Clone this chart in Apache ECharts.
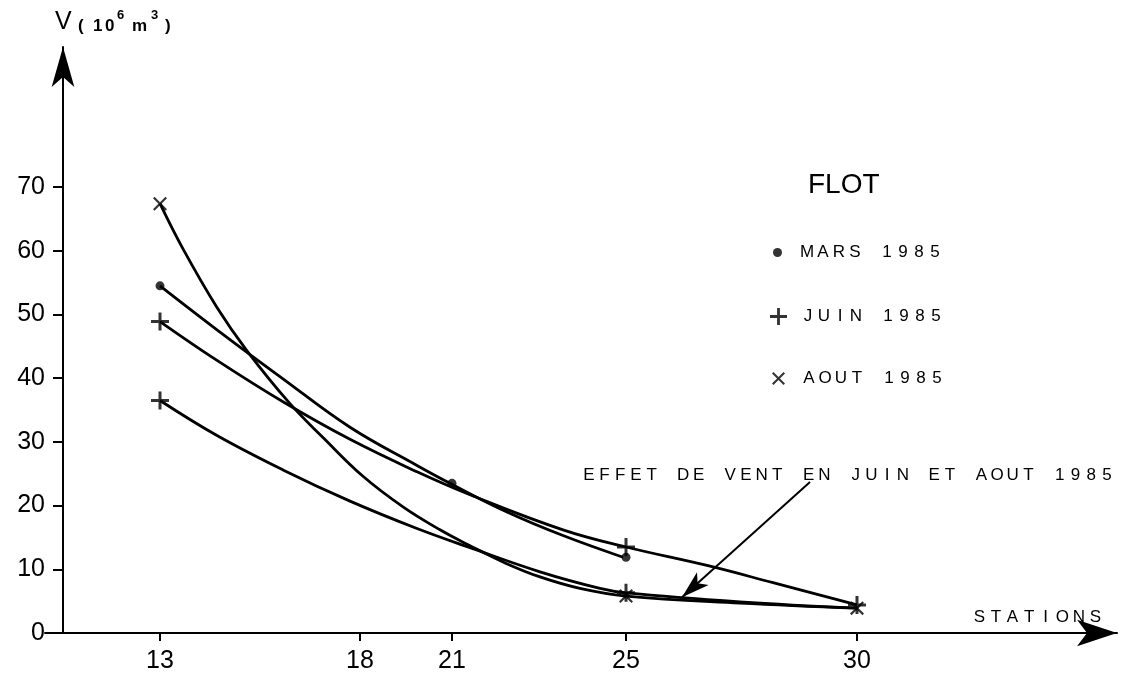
<!DOCTYPE html>
<html>
<head>
<meta charset="utf-8">
<script src="https://cdn.jsdelivr.net/npm/echarts@6/dist/echarts.min.js"></script>
<style>
html,body{margin:0;padding:0;background:#fff;}
#chart{width:1137px;height:678px;}
</style>
</head>
<body>
<div id="chart"></div>
<script>
// Stations along the x axis and their position along the (non-linear) axis,
// measured from station 13
const stations = [13, 18, 21, 25, 30];
const stationPos = [0, 200, 292, 466, 697];
// distance of station 13 from the vertical axis, same units
const xOrigin = 97;
const yTicks = [0, 10, 20, 30, 40, 50, 60, 70];

// Measured points [station, V (10^6 m3)]
const marsPoints = [[13, 54.5], [21, 23.5], [25, 11.9]];
const juinPoints = [[13, 48.9], [13, 36.5], [25, 13.5], [25, 6.3], [30, 4.4]];
const aoutPoints = [[13, 67.4], [25, 5.8], [30, 3.9]];

// Fitted curves [position from station 13, V]
const aoutCurve = [[0, 67.4], [23, 60.3], [57, 51.1], [87, 44.3], [130, 36.0], [163, 30.7], [203, 24.6], [243, 19.8], [280, 16.2], [310, 13.7], [345, 11.0], [380, 8.8], [420, 7.0], [466, 5.8], [580, 4.7], [697, 3.9]];
const marsCurve = [[0, 54.5], [57, 47.6], [123, 39.9], [190, 32.3], [257, 26.3], [290, 23.5], [347, 19.0], [403, 15.3], [463, 11.9]];
const juinUpperCurve = [[0, 48.9], [57, 42.8], [123, 36.3], [190, 30.4], [257, 25.3], [310, 21.7], [403, 16.2], [466, 13.5], [547, 10.6], [613, 7.9], [697, 4.4]];
const juinLowerCurve = [[0, 36.5], [57, 31.0], [123, 25.6], [190, 20.7], [257, 16.4], [310, 13.4], [380, 9.6], [440, 7.0], [466, 6.3], [580, 4.9], [697, 3.9]];

// Annotation arrow [position from station 13, V]
const windArrow = [[650, 23.7], [522, 5.6]];

const FONT = 'Liberation Sans';
const axisPos = stationPos.map(p => p + xOrigin);
function posOf(st) { return stationPos[stations.indexOf(st)] + xOrigin; }
function toXY(pts) { return pts.map(p => [posOf(p[0]), p[1]]); }
function shift(pts) { return pts.map(p => [p[0] + xOrigin, p[1]]); }
function spaced(s, st) { return s.split('').map(ch => '{' + st + '|' + ch + '}').join(''); }

const PLUS = 'path://M7.5,0 H10.5 V7.5 H18 V10.5 H10.5 V18 H7.5 V10.5 H0 V7.5 H7.5 Z';
const CROSS = 'path://M2,0 L9,7 L16,0 L18,2 L11,9 L18,16 L16,18 L9,11 L2,18 L0,16 L7,9 L0,2 Z';

const lineStyle = { color: '#000', width: 2.8 };
function curve(name, data) {
  return { name: name, type: 'line', data: shift(data), smooth: 0.4, showSymbol: false, symbol: 'none',
    lineStyle: lineStyle, silent: true, z: 2 };
}

function cell(w, size) {
  return { width: w, align: 'center', fontSize: size, fontWeight: 'normal', color: '#000', fontFamily: FONT };
}

function legendFor(name, left, top, w, h, pad) {
  return {
    data: [name], left: left, top: top, itemWidth: w, itemHeight: h, padding: 0,
    selectedMode: false,
    formatter: n => '{p| }' + spaced(n, 'c'),
    textStyle: { rich: { c: cell(16, 17), p: { width: pad } } }
  };
}

function vcell(w, size, va, lh, bold) {
  return { width: w, align: 'left', fontSize: size, fontWeight: bold ? 'bold' : 'normal', color: '#000',
    fontFamily: FONT, verticalAlign: va, lineHeight: lh };
}
const vRich = {
  a: vcell(23, 25, 'bottom', 26, false),
  b: vcell(15, 17, 'bottom', 16, true),
  c: vcell(12, 17, 'bottom', 16, true),
  d: vcell(12, 17, 'bottom', 16, true),
  e: vcell(15, 13, 'top', 22, true),
  f: vcell(19, 17, 'bottom', 16, true),
  g: vcell(14, 13, 'top', 22, true),
  h: vcell(10, 17, 'bottom', 16, true)
};

const chart = echarts.init(document.getElementById('chart'), null, { renderer: 'canvas' });
chart.setOption({
  backgroundColor: '#fff',
  animation: false,
  textStyle: { fontFamily: FONT, color: '#000' },
  grid: { left: 45, right: 20, top: 47, bottom: 45, containLabel: false, outerBoundsMode: 'none' },
  title: [
    { text: '{a|V}{b|(}{c|1}{d|0}{e|6}{f|m}{g|3}{h|)}', left: 55, top: 9, padding: 0,
      textStyle: { rich: vRich } },
    { text: 'FLOT', left: 808, top: 171, padding: 0,
      textStyle: { fontSize: 28, fontWeight: 'normal', color: '#000', fontFamily: FONT } },
    { text: spaced('EFFET DE VENT EN JUIN ET AOUT 1985', 'c'), left: 581, top: 467, padding: 0,
      textStyle: { rich: { c: cell(15.7, 17) } } },
    { text: spaced('STATIONS', 'c'), left: 971, top: 609, padding: 0,
      textStyle: { rich: { c: cell(16.6, 17) } } }
  ],
  legend: [
    legendFor('MARS 1985', 773, 244, 9, 9, 12),
    legendFor('JUIN 1985', 770, 308, 17, 17, 8),
    legendFor('AOUT 1985', 772, 370, 13, 13, 11)
  ],
  xAxis: {
    type: 'value', min: -18, max: 1054,
    splitLine: { show: false },
    axisLine: { show: true, onZero: false, lineStyle: { color: '#000', width: 2 }, symbol: ['none', 'arrow'], symbolSize: [20, 40] },
    axisTick: { show: true, length: 8, lineStyle: { color: '#000', width: 2 }, customValues: axisPos },
    axisLabel: { show: true, margin: 16, fontSize: 25, color: '#000', fontFamily: FONT, customValues: axisPos,
      formatter: v => { const i = axisPos.indexOf(v); return i >= 0 ? String(stations[i]) : ''; } }
  },
  yAxis: {
    type: 'value', min: 0, max: 92,
    splitLine: { show: false },
    axisLine: { show: true, onZero: true, lineStyle: { color: '#000', width: 2 }, symbol: ['none', 'arrow'], symbolSize: [17, 40] },
    axisTick: { show: true, length: 10, lineStyle: { color: '#000', width: 2 }, customValues: yTicks },
    axisLabel: { show: true, margin: 0, fontSize: 25, color: '#000', fontFamily: FONT, customValues: yTicks }
  },
  series: [
    curve('c-aout', aoutCurve),
    curve('c-mars', marsCurve),
    curve('c-juin-up', juinUpperCurve),
    Object.assign(curve('c-juin-low', juinLowerCurve), {
      markLine: {
        silent: true, symbol: ['none', 'arrow'], symbolSize: [13, 28],
        label: { show: false },
        lineStyle: { color: '#000', width: 2, type: 'solid' },
        data: [[{ coord: shift([windArrow[0]])[0] }, { coord: shift([windArrow[1]])[0] }]]
      }
    }),
    { name: 'MARS 1985', type: 'scatter', data: toXY(marsPoints), symbol: 'circle', symbolSize: 9,
      itemStyle: { color: '#000' }, z: 5, silent: true },
    { name: 'JUIN 1985', type: 'scatter', data: toXY(juinPoints), symbol: PLUS, symbolSize: 18,
      itemStyle: { color: '#000' }, z: 5, silent: true },
    { name: 'AOUT 1985', type: 'scatter', data: toXY(aoutPoints), symbol: CROSS, symbolSize: 14,
      itemStyle: { color: '#000' }, z: 5, silent: true }
  ]
});
</script>
</body>
</html>
